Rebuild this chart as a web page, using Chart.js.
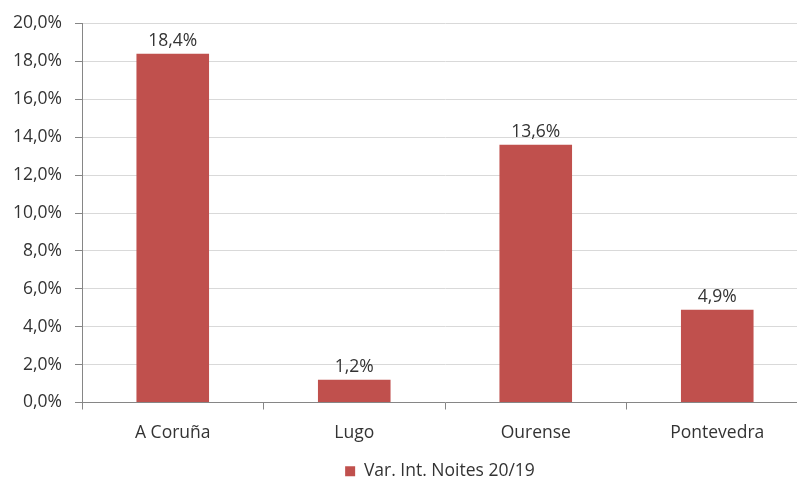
<!DOCTYPE html>
<html><head><meta charset="utf-8">
<script src="https://cdn.jsdelivr.net/npm/chart.js@4/dist/chart.umd.min.js"></script>
<style>
html,body{margin:0;padding:0;background:#fff;overflow:hidden;width:797px;height:483px;}
#wrap{position:absolute;left:0;top:0;width:880px;height:490px;}
</style></head>
<body><div id="wrap"><canvas id="c"></canvas></div>
<script>
const categories = ['A Coruña', 'Lugo', 'Ourense', 'Pontevedra'];
const seriesName = 'Var. Int. Noites 20/19';
const values = [18.4, 1.2, 13.6, 4.9];
const yTicks = [0, 2, 4, 6, 8, 10, 12, 14, 16, 18, 20];

const FONT = '"Open Sans", Lato, sans-serif';
const FS = 17.5;
const TXT = '#333333';
const fmt = v => v.toFixed(1).replace('.', ',') + '%';

const labelsPlugin = {
  id: 'barLabels',
  afterDatasetsDraw(chart) {
    const ctx = chart.ctx;
    const meta = chart.getDatasetMeta(0);
    ctx.save();
    ctx.font = FS + 'px ' + FONT;
    ctx.fillStyle = TXT;
    ctx.textAlign = 'center';
    ctx.textBaseline = 'bottom';
    meta.data.forEach((bar, i) => {
      ctx.fillText(fmt(values[i]), bar.x, bar.y - 4);
    });
    ctx.restore();
  }
};

new Chart(document.getElementById('c'), {
  type: 'bar',
  data: {
    labels: categories,
    datasets: [{
      label: seriesName,
      data: values,
      backgroundColor: '#C0504D',
      borderWidth: 0,
      categoryPercentage: 0.8,
      barPercentage: 0.5
    }]
  },
  options: {
    responsive: true,
    maintainAspectRatio: false,
    animation: false,
    events: [],
    layout: { padding: { top: 12, right: 0, left: 0, bottom: 0 } },
    plugins: {
      legend: {
        position: 'bottom',
        labels: {
          font: { family: FONT, size: FS },
          color: TXT,
          boxWidth: 10,
          boxHeight: 10,
          padding: 4
        }
      },
      tooltip: { enabled: false }
    },
    scales: {
      x: {
        offset: true,
        afterFit(scale) { scale.height = 56; },
        grid: {
          offset: true,
          drawOnChartArea: false,
          drawTicks: true,
          tickLength: 7,
          color: '#868686'
        },
        border: { color: '#868686', width: 1 },
        ticks: { font: { family: FONT, size: FS }, color: TXT, padding: 13 }
      },
      y: {
        min: 0,
        max: 20,
        afterBuildTicks(scale) { scale.ticks = yTicks.map(v => ({ value: v })); },
        afterFit(scale) { scale.width = 82; },
        grid: {
          color: '#D9D9D9',
          tickColor: '#868686',
          tickLength: 7,
          drawTicks: true
        },
        border: { color: '#868686', width: 1 },
        ticks: {
          font: { family: FONT, size: FS },
          color: TXT,
          padding: 13,
          callback: v => fmt(v)
        }
      },
      yRight: {
        position: 'right',
        min: 0,
        max: 1,
        afterFit(scale) { scale.width = 72; },
        grid: { display: false, drawOnChartArea: false, drawTicks: false },
        border: { display: false },
        ticks: { display: false }
      }
    }
  },
  plugins: [labelsPlugin]
});
</script>
</body></html>
